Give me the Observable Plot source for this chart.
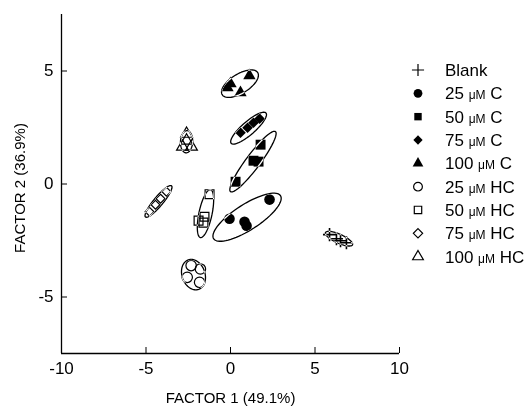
<!DOCTYPE html>
<html><head><meta charset="utf-8">
<script src="https://cdn.jsdelivr.net/npm/d3@7"></script>
<script src="https://cdn.jsdelivr.net/npm/@observablehq/plot@0.6"></script>
<style>
body{margin:0;background:#fff;}
#wrap{position:relative;width:532px;height:406px;}
#legend{position:absolute;left:0;top:0;pointer-events:none;}
</style></head><body><div id="wrap"></div>
<script>
// Treatment groups (legend order)
const groups = ["Blank", "25 μM C", "50 μM C", "75 μM C", "100 μM C", "25 μM HC", "50 μM HC", "75 μM HC", "100 μM HC"];
const groupDose = ["Blank", "25", "50", "75", "100", "25", "50", "75", "100"];
const groupKind = ["", "C", "C", "C", "C", "HC", "HC", "HC", "HC"];
const groupSymbol = ["plus", "circle", "square", "diamond2", "triangle", "circle", "square", "diamond2", "triangle"];
const groupFilled = [false, true, true, true, true, false, false, false, false];

// Scores on FACTOR 1 / FACTOR 2 (replicates per group)
const factor1 = [
  [5.86, 6.27, 6.51, 6.86],      // Blank
  [-0.06, 0.83, 0.95, 2.31],     // 25 C
  [1.78, 1.36, 1.66, 0.30],      // 50 C
  [0.59, 1.01, 1.36, 1.72],      // 75 C
  [0.00, 1.12, 0.59, -0.18],     // 100 C
  [-2.33, -1.78, -2.56, -1.83],  // 25 HC
  [-1.24, -1.54, -1.89, -1.60],  // 50 HC
  [-4.79, -4.44, -4.14, -3.79],  // 75 HC
  [-2.60, -2.84, -2.31, -2.60]   // 100 HC
];
const factor2 = [
  [-2.24, -2.42, -2.51, -2.60],
  [-1.54, -1.67, -1.85, -0.69],
  [1.74, 1.03, 0.99, 0.10],
  [2.27, 2.49, 2.71, 2.89],
  [4.44, 4.79, 4.04, 4.26],
  [-3.61, -3.76, -4.13, -4.35],
  [-0.45, -1.45, -1.62, -1.71],
  [-1.23, -0.92, -0.65, -0.34],
  [2.22, 1.65, 1.65, 1.92]
];

// Confidence ellipses: centre and two conjugate semi-axis vectors (data units)
const ellCx = [6.42, 0.98, 1.33, 1.07, 0.56, -2.19, -1.48, -4.26, -2.60];
const ellCy = [-2.42, -1.47, 0.99, 2.47, 4.44, -4.01, -1.31, -0.77, 1.87];
const ellAx = [0.80, 1.98, 1.33, 1.03, 1.05, 0.31, 0.30, 0.77, 0.03];
const ellAy = [-0.27, 0.95, 1.33, 0.67, 0.49, -0.65, 1.06, 0.69, 0.49];
const ellBx = [-0.11, 0.40, 0.33, 0.25, 0.30, 0.64, 0.38, 0.21, 0.36];
const ellBy = [-0.18, -0.48, -0.19, -0.22, -0.36, 0.17, -0.06, -0.13, -0.01];

const xTicks = [-10, -5, 0, 5, 10];
const yTicks = [-5, 0, 5];
const xDomain = [-10, 10];
const yDomain = [-7.5, 7.5];
const xTitle = "FACTOR 1 (49.1%)";
const yTitle = "FACTOR 2 (36.9%)";

const FONT = "'Liberation Sans', Arial, Helvetica, sans-serif";

const points = [];
groups.forEach((g, i) => factor1[i].forEach((v, j) => points.push({
  group: g, f1: v, f2: factor2[i][j], symbol: groupSymbol[i], filled: groupFilled[i]
})));

const ellipsePts = [];
groups.forEach((g, i) => {
  for (let k = 0; k < 72; k++) {
    const t = 2 * Math.PI * k / 72;
    ellipsePts.push({
      group: g,
      f1: ellCx[i] + Math.cos(t) * ellAx[i] + Math.sin(t) * ellBx[i],
      f2: ellCy[i] + Math.cos(t) * ellAy[i] + Math.sin(t) * ellBy[i]
    });
  }
});

const filledSize = {circle: 5.3, square: 5.6, diamond2: 4.8, triangle: 4.6};
const openSize = {plus: 4.3, circle: 5.2, square: 5.0, diamond2: 4.0, triangle: 4.4};

const chart = Plot.plot({
  width: 532, height: 406,
  marginLeft: 61, marginRight: 133, marginTop: 14, marginBottom: 53,
  x: {domain: xDomain, label: null},
  y: {domain: yDomain, label: null},
  r: {type: "identity"},
  symbol: {type: "identity"},
  style: {fontFamily: FONT, fontSize: "17px", color: "black", background: "white"},
  marks: [
    Plot.frame({fill: "white", stroke: null}),
    Plot.dot(points.filter(d => d.filled), {
      x: "f1", y: "f2", symbol: d => d.symbol, r: d => filledSize[d.symbol],
      fill: "black", stroke: "none"
    }),
    Plot.dot(points.filter(d => !d.filled), {
      x: "f1", y: "f2", symbol: d => d.symbol, r: d => openSize[d.symbol],
      fill: "none", stroke: "black", strokeWidth: d => d.symbol === "plus" ? 1.6 : 1.2
    }),
    Plot.line(ellipsePts, {
      x: "f1", y: "f2", z: "group", curve: "linear-closed",
      stroke: "white", strokeWidth: 1.3, mixBlendMode: "difference"
    }),
    Plot.ruleX([xDomain[0]], {stroke: "black", strokeWidth: 1.3}),
    Plot.ruleY([yDomain[0]], {stroke: "black", strokeWidth: 1.3}),
    Plot.axisX({ticks: xTicks, tickFormat: d => String(d), tickSize: -6, tickPadding: 14, fontSize: 17, label: null}),
    Plot.axisY({ticks: yTicks, tickFormat: d => String(d), tickSize: -6, tickPadding: 14, fontSize: 17, label: null}),
    Plot.text([xTitle], {frameAnchor: "bottom", dy: 45, fontSize: 15, text: d => d, textAnchor: "middle", lineAnchor: "middle"}),
    Plot.text([yTitle], {frameAnchor: "left", dx: -41, dy: 4, rotate: -90, fontSize: 15, text: d => d, textAnchor: "middle", lineAnchor: "middle"})
  ]
});
const wrap = document.getElementById("wrap");
wrap.appendChild(chart);

// Legend
const leg = d3.select(wrap).append("svg").attr("id", "legend")
  .attr("width", 532).attr("height", 406);
const legSize = {plus: 50, circle: 60, square: 55, diamond2: 55, triangle: 50};
const symMap = {plus: d3.symbolPlus, circle: d3.symbolCircle, square: d3.symbolSquare, diamond2: d3.symbolDiamond2, triangle: d3.symbolTriangle};
groups.forEach((g, i) => {
  const cy = 70 + i * 23.33;
  const s = groupSymbol[i];
  leg.append("path")
    .attr("transform", `translate(418,${cy})`)
    .attr("d", d3.symbol(symMap[s], legSize[s])())
    .attr("fill", groupFilled[i] ? "black" : "none")
    .attr("stroke", groupFilled[i] ? "none" : "black")
    .attr("stroke-width", 1.2);
  const t = leg.append("text")
    .attr("x", 445).attr("y", cy).attr("dy", "0.35em")
    .attr("font-family", FONT).attr("font-size", 17).attr("fill", "black");
  if (i === 0) {
    t.text(groupDose[i]);
  } else {
    t.append("tspan").text(groupDose[i] + " ");
    t.append("tspan").attr("font-size", 12).text("μM");
    t.append("tspan").text(" " + groupKind[i]);
  }
});
</script></body></html>
